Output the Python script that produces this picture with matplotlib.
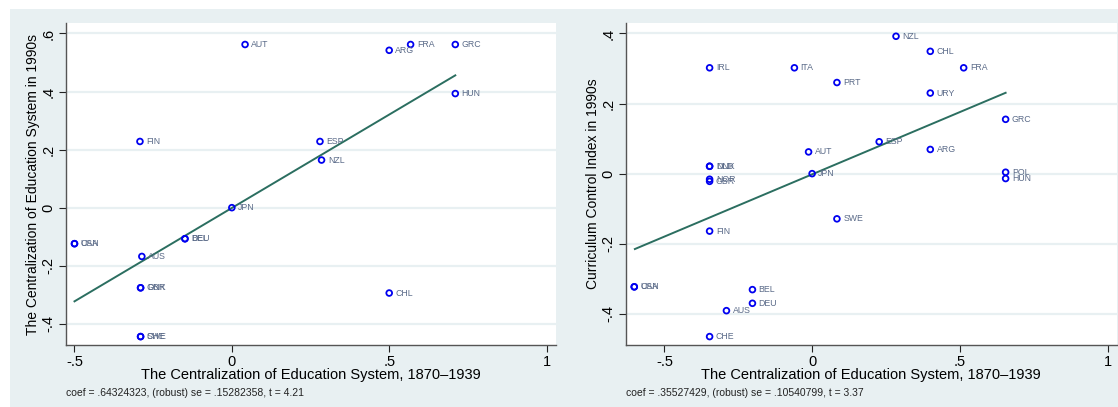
import matplotlib
matplotlib.use("Agg")
import matplotlib.pyplot as plt
from matplotlib.patches import Rectangle

plt.rcParams['font.family'] = ['Liberation Sans', 'DejaVu Sans']

# ---- Left panel data ----
left_codes = ["AUT", "ARG", "FRA", "GRC", "HUN", "FIN", "ESP", "NZL", "JPN",
              "BEL", "DEU", "CAN", "USA", "AUS", "GBR", "DNK", "CHE", "SWE", "CHL"]
left_x = [0.042, 0.50, 0.568, 0.71, 0.71, -0.292, 0.28, 0.285, 0.0,
          -0.149, -0.149, -0.50, -0.50, -0.286, -0.29, -0.29, -0.29, -0.29, 0.50]
left_y = [0.562, 0.542, 0.562, 0.562, 0.393, 0.228, 0.228, 0.164, 0.0,
          -0.107, -0.107, -0.124, -0.124, -0.168, -0.276, -0.276, -0.444, -0.444, -0.294]
left_coef = 0.64324323
left_const = -0.001
left_fit_range = [-0.50, 0.71]
left_note = "coef = .64324323, (robust) se = .15282358, t = 4.21"
left_ylabel = "The Centralization of Education System in 1990s"
left_yticks = [-0.4, -0.2, 0, 0.2, 0.4, 0.6]
left_yticklabels = ["-.4", "-.2", "0", ".2", ".4", ".6"]

# ---- Right panel data ----
right_codes = ["NZL", "CHL", "IRL", "ITA", "FRA", "PRT", "URY", "GRC", "ESP", "AUT",
               "ARG", "DNK", "NLD", "JPN", "NOR", "GBR", "POL", "HUN", "SWE", "FIN",
               "CAN", "USA", "BEL", "DEU", "AUS", "CHE"]
right_x = [0.284, 0.40, -0.347, -0.06, 0.513, 0.084, 0.40, 0.655, 0.227, -0.012,
           0.40, -0.347, -0.347, 0.0, -0.347, -0.347, 0.655, 0.655, 0.084, -0.347,
           -0.602, -0.602, -0.202, -0.202, -0.29, -0.347]
right_y = [0.392, 0.349, 0.302, 0.302, 0.302, 0.260, 0.230, 0.155, 0.091, 0.062,
           0.069, 0.021, 0.021, 0.0, -0.016, -0.022, 0.004, -0.014, -0.129, -0.164,
           -0.323, -0.323, -0.331, -0.370, -0.391, -0.465]
right_coef = 0.35527429
right_const = -0.002
right_fit_range = [-0.60, 0.655]
right_note = "coef = .35527429, (robust) se = .10540799, t = 3.37"
right_ylabel = "Curriculum Control Index in 1990s"
right_yticks = [-0.4, -0.2, 0, 0.2, 0.4]
right_yticklabels = ["-.4", "-.2", "0", ".2", ".4"]

xlabel = "The Centralization of Education System, 1870\u20131939"
xticks = [-0.5, 0, 0.5, 1]
xticklabels = ["-.5", "0", ".5", "1"]

W, H = 1118, 407
BG = "#E8F0F2"
fig = plt.figure(figsize=(W / 100, H / 100), dpi=100, facecolor="white")
fig.patches.append(Rectangle((10 / W, 0), 1 - 10 / W, 1 - 9 / H,
                             transform=fig.transFigure, facecolor=BG,
                             edgecolor="none", zorder=-10))


def panel(rect, codes, xs, ys, coef, const, frange, note, ylabel,
          yticks, yticklabels, xlim, ylim):
    ax = fig.add_axes(rect)
    ax.set_facecolor("white")
    ax.set_xlim(*xlim)
    ax.set_ylim(*ylim)
    for t in yticks:
        ax.axhline(t, color=BG, lw=1.6, zorder=0)
    fx = [frange[0], frange[1]]
    fy = [const + coef * v for v in fx]
    ax.plot(fx, fy, color="#2B6E60", lw=1.4, zorder=2)
    ax.scatter(xs, ys, s=17, facecolors="none", edgecolors="#0000F0",
               linewidths=1.3, zorder=3)
    for c, x, y in zip(codes, xs, ys):
        ax.annotate(c, (x, y), xytext=(4.5, 0), textcoords="offset points",
                    fontsize=6.3, color="#5A6A88", va="center", ha="left", zorder=4)
    for s in ("top", "right"):
        ax.spines[s].set_visible(False)
    for s in ("left", "bottom"):
        ax.spines[s].set_color("#555555")
        ax.spines[s].set_linewidth(1.0)
    ax.set_xticks(xticks)
    ax.set_xticklabels(xticklabels, fontsize=10.5)
    ax.set_yticks(yticks)
    ax.set_yticklabels(yticklabels, fontsize=10.5, rotation=90, va="center")
    ax.tick_params(axis="both", length=5, width=0.8, color="#222222", pad=2.5)
    ax.set_xlabel(xlabel, fontsize=10.5, labelpad=-1)
    ax.set_ylabel(ylabel, fontsize=10, labelpad=1)
    ax.text(0.0, -0.135, note, transform=ax.transAxes, fontsize=7.5,
            ha="left", va="top", color="#222222")
    return ax


bottom = (H - 345) / H
height = (345 - 23.3) / H
panel([66 / W, bottom, (556 - 66) / W, height], left_codes, left_x, left_y,
      left_coef, left_const, left_fit_range, left_note, left_ylabel,
      left_yticks, left_yticklabels, (-0.527, 1.03), (-0.473, 0.635))
panel([625.7 / W, bottom, (1117 - 625.7) / W, height], right_codes, right_x, right_y,
      right_coef, right_const, right_fit_range, right_note, right_ylabel,
      right_yticks, right_yticklabels, (-0.631, 1.032), (-0.489, 0.429))

fig.savefig("out.png", dpi=100, facecolor="white")
